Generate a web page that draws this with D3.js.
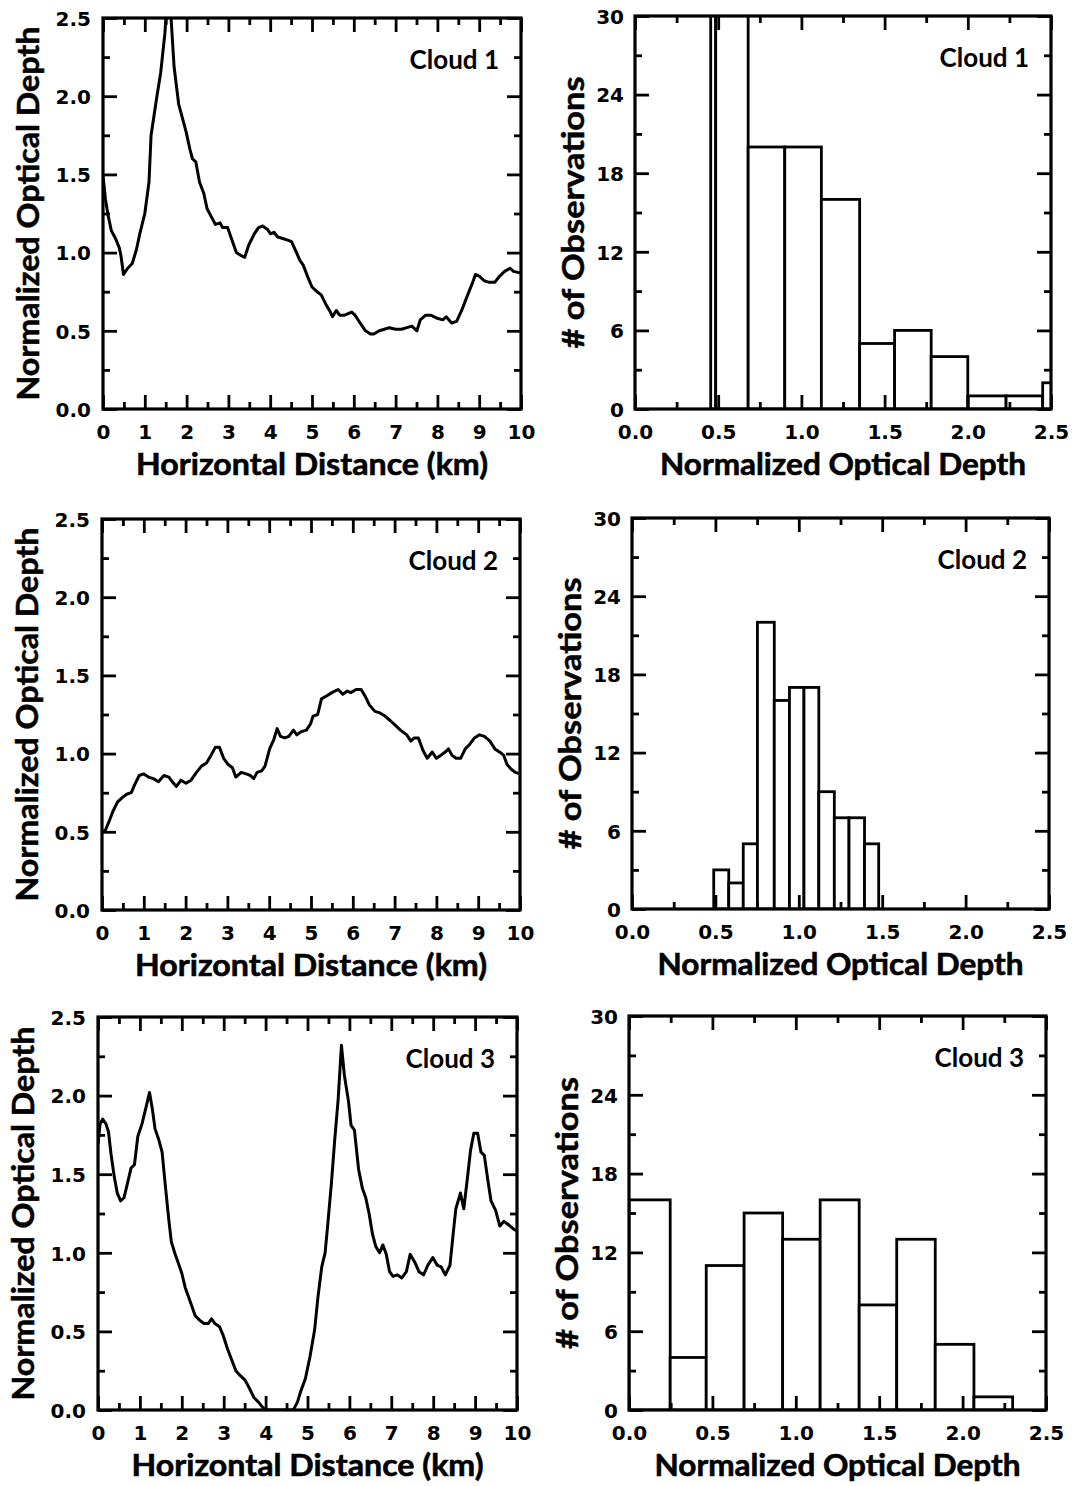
<!DOCTYPE html>
<html>
<head>
<meta charset="utf-8">
<script src="https://cdn.jsdelivr.net/npm/d3@7"></script>
<style>
  body { margin: 0; background: #fff; }
  svg { display: block; }
</style>
</head>
<body>
<svg id="chart" width="1074" height="1486"></svg>
<script>
// ---- Optical depth profiles: [horizontal distance (km), normalized optical depth] ----
const cloud1Profile = [
  [0,1.49],[0.06,1.34],[0.12,1.24],[0.2,1.14],[0.3,1.09],[0.39,1.03],[0.43,0.98],[0.49,0.86],
  [0.59,0.9],[0.7,0.93],[0.8,1.02],[0.88,1.12],[1.0,1.25],[1.1,1.45],[1.15,1.75],[1.29,2.0],
  [1.38,2.15],[1.48,2.4],[1.57,2.75],[1.7,2.19],[1.81,1.95],[1.91,1.85],[1.99,1.77],[2.08,1.66],
  [2.14,1.6],[2.22,1.58],[2.31,1.45],[2.41,1.38],[2.49,1.28],[2.59,1.23],[2.69,1.18],[2.8,1.19],
  [2.86,1.16],[2.98,1.16],[3.06,1.1],[3.19,1.0],[3.31,0.98],[3.39,0.97],[3.49,1.05],[3.62,1.12],
  [3.72,1.16],[3.82,1.17],[3.93,1.15],[4.01,1.12],[4.09,1.13],[4.18,1.1],[4.3,1.09],[4.42,1.08],
  [4.51,1.07],[4.63,1.0],[4.71,0.95],[4.79,0.92],[4.92,0.83],[5.0,0.78],[5.12,0.75],[5.22,0.73],
  [5.33,0.67],[5.44,0.62],[5.49,0.59],[5.58,0.63],[5.66,0.6],[5.78,0.6],[5.95,0.62],[6.03,0.6],
  [6.15,0.55],[6.28,0.5],[6.4,0.48],[6.48,0.48],[6.61,0.5],[6.73,0.51],[6.85,0.52],[7.0,0.51],
  [7.14,0.51],[7.27,0.52],[7.39,0.53],[7.51,0.5],[7.59,0.57],[7.72,0.6],[7.84,0.6],[8.0,0.58],
  [8.13,0.57],[8.21,0.59],[8.34,0.55],[8.46,0.56],[8.58,0.63],[8.71,0.72],[8.83,0.8],[8.91,0.86],
  [9.0,0.85],[9.12,0.82],[9.24,0.81],[9.37,0.81],[9.49,0.85],[9.61,0.88],[9.74,0.9],[9.82,0.88],
  [10.0,0.87]
];

const cloud2Profile = [
  [0,0.5],[0.08,0.51],[0.16,0.56],[0.26,0.63],[0.37,0.69],[0.49,0.72],[0.59,0.74],[0.7,0.75],
  [0.78,0.8],[0.89,0.86],[1.0,0.87],[1.11,0.85],[1.23,0.84],[1.35,0.82],[1.48,0.86],[1.6,0.85],
  [1.68,0.82],[1.78,0.79],[1.89,0.83],[2.01,0.81],[2.13,0.83],[2.26,0.88],[2.38,0.92],[2.5,0.94],
  [2.61,0.99],[2.71,1.04],[2.81,1.04],[2.91,0.97],[3.02,0.93],[3.12,0.91],[3.2,0.85],[3.33,0.88],
  [3.45,0.87],[3.55,0.86],[3.63,0.84],[3.71,0.88],[3.82,0.89],[3.9,0.92],[4.01,1.03],[4.11,1.09],
  [4.19,1.16],[4.27,1.11],[4.37,1.1],[4.47,1.11],[4.58,1.15],[4.66,1.12],[4.76,1.14],[4.89,1.15],
  [4.99,1.19],[5.05,1.24],[5.16,1.25],[5.25,1.35],[5.38,1.37],[5.5,1.39],[5.65,1.41],[5.76,1.38],
  [5.87,1.4],[5.95,1.39],[6.08,1.41],[6.2,1.41],[6.31,1.36],[6.4,1.31],[6.53,1.27],[6.65,1.26],
  [6.77,1.24],[6.9,1.21],[7.02,1.18],[7.14,1.15],[7.29,1.12],[7.39,1.08],[7.47,1.1],[7.57,1.1],
  [7.68,1.02],[7.78,0.97],[7.9,1.01],[8.0,0.97],[8.11,0.99],[8.21,1.01],[8.29,1.03],[8.37,0.99],
  [8.47,0.97],[8.58,0.97],[8.69,1.03],[8.8,1.06],[8.91,1.1],[9.03,1.12],[9.15,1.11],[9.28,1.08],
  [9.4,1.03],[9.51,1.01],[9.61,0.99],[9.69,0.93],[9.79,0.9],[9.89,0.88],[10.0,0.87]
];

const cloud3Profile = [
  [0,1.69],[0.05,1.82],[0.11,1.85],[0.19,1.82],[0.25,1.77],[0.31,1.63],[0.39,1.48],[0.46,1.38],
  [0.54,1.33],[0.62,1.35],[0.71,1.45],[0.79,1.54],[0.87,1.56],[0.95,1.74],[1.05,1.82],[1.15,1.93],
  [1.23,2.02],[1.3,1.91],[1.36,1.79],[1.45,1.72],[1.53,1.64],[1.61,1.42],[1.69,1.21],[1.75,1.07],
  [1.83,1.0],[1.91,0.94],[2.0,0.87],[2.08,0.78],[2.16,0.72],[2.24,0.66],[2.32,0.6],[2.43,0.57],
  [2.53,0.55],[2.63,0.55],[2.71,0.58],[2.79,0.55],[2.9,0.53],[2.98,0.48],[3.09,0.39],[3.19,0.32],
  [3.29,0.25],[3.39,0.22],[3.51,0.19],[3.61,0.14],[3.72,0.08],[3.83,0.05],[3.92,0.02],[4.0,0.0],
  [4.66,0.0],[4.76,0.05],[4.84,0.12],[4.95,0.2],[5.06,0.34],[5.17,0.51],[5.25,0.72],[5.34,0.91],
  [5.42,1.0],[5.48,1.17],[5.57,1.44],[5.65,1.72],[5.73,1.97],[5.81,2.32],[5.88,2.13],[5.98,1.96],
  [6.04,1.81],[6.12,1.78],[6.22,1.53],[6.31,1.41],[6.39,1.35],[6.47,1.25],[6.55,1.12],[6.63,1.04],
  [6.72,1.0],[6.8,1.05],[6.88,0.99],[6.96,0.88],[7.04,0.85],[7.14,0.86],[7.25,0.84],[7.36,0.88],
  [7.45,0.99],[7.56,0.94],[7.66,0.88],[7.77,0.86],[7.87,0.92],[7.99,0.97],[8.1,0.92],[8.19,0.91],
  [8.29,0.86],[8.4,0.92],[8.48,1.13],[8.54,1.28],[8.65,1.38],[8.73,1.28],[8.81,1.46],[8.89,1.65],
  [8.97,1.76],[9.06,1.76],[9.14,1.64],[9.22,1.62],[9.3,1.47],[9.38,1.33],[9.49,1.27],[9.59,1.17],
  [9.69,1.2],[9.79,1.18],[9.92,1.15],[10.0,1.14]
];

// ---- Histograms: bin edges (normalized optical depth) and counts per bin ----
const cloud1BinEdges = [0.455, 0.485, 0.68, 0.90, 1.12, 1.35, 1.56, 1.78, 2.00, 2.23, 2.45, 2.52];
const cloud1Counts   = [34, 34, 20, 20, 16, 5, 6, 4, 1, 1, 2];

const cloud2BinEdges = [0.49, 0.58, 0.667, 0.752, 0.853, 0.944, 1.031, 1.12, 1.213, 1.301, 1.394, 1.479];
const cloud2Counts   = [3, 2, 5, 22, 16, 17, 17, 9, 7, 7, 5];

const cloud3BinEdges = [0.0, 0.247, 0.463, 0.69, 0.921, 1.146, 1.38, 1.605, 1.836, 2.068, 2.3];
const cloud3Counts   = [16, 4, 11, 15, 13, 16, 8, 13, 5, 1];

// ---- Tick values ----
const distanceTicks      = [0, 1, 2, 3, 4, 5, 6, 7, 8, 9, 10];
const distanceMinorTicks = [0.5, 1.5, 2.5, 3.5, 4.5, 5.5, 6.5, 7.5, 8.5, 9.5];
const depthTicks         = [0, 0.5, 1.0, 1.5, 2.0, 2.5];
const depthMinorTicks    = [0.25, 0.75, 1.25, 1.75, 2.25];
const countTicks         = [0, 6, 12, 18, 24, 30];
const countMinorTicks    = [3, 9, 15, 21, 27];

const cloudNames = ["Cloud 1", "Cloud 2", "Cloud 3"];

// ---- Layout ----
const profileBoxes = [
  { x0: 103, x1: 521, y0: 18,   y1: 409 },
  { x0: 102, x1: 520, y0: 519,  y1: 910 },
  { x0: 98,  x1: 517, y0: 1017, y1: 1410 }
];
const histBoxes = [
  { x0: 635, x1: 1051, y0: 16,   y1: 409 },
  { x0: 632, x1: 1049, y0: 518,  y1: 909 },
  { x0: 629, x1: 1046, y0: 1016, y1: 1410 }
];

const TITLE_FONT = "Lato, 'Open Sans', 'DejaVu Sans', sans-serif";
const TICK_FONT = "'DejaVu Sans', Lato, sans-serif";
const svg = d3.select("#chart");
const defs = svg.append("defs");

function clipFor(id, b) {
  defs.append("clipPath").attr("id", id)
    .append("rect")
    .attr("x", b.x0).attr("y", b.y0)
    .attr("width", b.x1 - b.x0).attr("height", b.y1 - b.y0);
  return `url(#${id})`;
}

function styleAxis(sel) {
  sel.select(".domain").remove();
  sel.selectAll(".tick line").attr("stroke", "#000").attr("stroke-width", 2.8);
  sel.selectAll(".tick text")
    .attr("fill", "#000")
    .attr("font-family", TICK_FONT)
    .attr("font-weight", 700)
    .attr("font-size", 20);
}

function drawFrame(g, b, x, y, opts) {
  const BIG = 14, SMALL = 7;
  const none = () => "";
  // bottom: labelled major ticks + minor ticks
  g.append("g").attr("transform", `translate(0,${b.y1})`)
    .call(d3.axisBottom(x).tickValues(opts.xMajor).tickSize(-BIG).tickSizeOuter(0).tickFormat(opts.xFmt))
    .call(styleAxis)
    .call(s => s.selectAll(".tick text").attr("y", 30).attr("dy", null));
  g.append("g").attr("transform", `translate(0,${b.y1})`)
    .call(d3.axisBottom(x).tickValues(opts.xMinor).tickSize(-SMALL).tickSizeOuter(0).tickFormat(none))
    .call(styleAxis);
  // top
  g.append("g").attr("transform", `translate(0,${b.y0})`)
    .call(d3.axisTop(x).tickValues(opts.xMajor).tickSize(-BIG).tickSizeOuter(0).tickFormat(none))
    .call(styleAxis);
  g.append("g").attr("transform", `translate(0,${b.y0})`)
    .call(d3.axisTop(x).tickValues(opts.xMinor).tickSize(-SMALL).tickSizeOuter(0).tickFormat(none))
    .call(styleAxis);
  // left: labelled
  g.append("g").attr("transform", `translate(${b.x0},0)`)
    .call(d3.axisLeft(y).tickValues(opts.yMajor).tickSize(-BIG).tickSizeOuter(0).tickPadding(opts.yPad).tickFormat(opts.yFmt))
    .call(styleAxis)
    .call(s => s.selectAll(".tick text").attr("dy", "0.36em"));
  g.append("g").attr("transform", `translate(${b.x0},0)`)
    .call(d3.axisLeft(y).tickValues(opts.yMinor).tickSize(-SMALL).tickSizeOuter(0).tickFormat(none))
    .call(styleAxis);
  // right
  g.append("g").attr("transform", `translate(${b.x1},0)`)
    .call(d3.axisRight(y).tickValues(opts.yMajor).tickSize(-BIG).tickSizeOuter(0).tickFormat(none))
    .call(styleAxis);
  g.append("g").attr("transform", `translate(${b.x1},0)`)
    .call(d3.axisRight(y).tickValues(opts.yMinor).tickSize(-SMALL).tickSizeOuter(0).tickFormat(none))
    .call(styleAxis);
  // plot border
  g.append("rect")
    .attr("x", b.x0).attr("y", b.y0)
    .attr("width", b.x1 - b.x0).attr("height", b.y1 - b.y0)
    .attr("fill", "none").attr("stroke", "#000").attr("stroke-width", 3.2);
}

function titles(g, b, xTitle, xLen, yTitle, yLen, yOffset, name) {
  const cx = (b.x0 + b.x1) / 2, cy = (b.y0 + b.y1) / 2;
  g.append("text")
    .attr("x", cx).attr("y", b.y1 + 66)
    .attr("text-anchor", "middle")
    .attr("font-family", TITLE_FONT).attr("font-weight", 700).attr("font-size", 30)
    .attr("stroke", "#000").attr("stroke-width", 0.6)
    .attr("textLength", xLen).attr("lengthAdjust", "spacingAndGlyphs")
    .text(xTitle);
  g.append("text")
    .attr("transform", `translate(${b.x0 - yOffset},${cy}) rotate(-90)`)
    .attr("text-anchor", "middle")
    .attr("font-family", TITLE_FONT).attr("font-weight", 700).attr("font-size", 31)
    .attr("stroke", "#000").attr("stroke-width", 0.5)
    .attr("textLength", yLen).attr("lengthAdjust", "spacingAndGlyphs")
    .text(yTitle);
  g.append("text")
    .attr("x", b.x1 - 22).attr("y", b.y0 + 51)
    .attr("text-anchor", "end")
    .attr("font-family", TITLE_FONT).attr("font-weight", 700).attr("font-size", 26)
    .text(name);
}

const fmtDist = d3.format("d");
const fmtDepth = d3.format(".1f");
const fmtCount = d3.format("d");

// ---- Left column: optical depth along the flight track ----
[cloud1Profile, cloud2Profile, cloud3Profile].forEach((profile, i) => {
  const b = profileBoxes[i];
  const g = svg.append("g");
  const x = d3.scaleLinear().domain([0, 10]).range([b.x0, b.x1]);
  const y = d3.scaleLinear().domain([0, 2.5]).range([b.y1, b.y0]);
  const line = d3.line().x(d => x(d[0])).y(d => y(d[1]));
  g.append("path")
    .datum(profile)
    .attr("clip-path", clipFor(`clip-profile-${i}`, b))
    .attr("d", line)
    .attr("fill", "none").attr("stroke", "#000")
    .attr("stroke-width", 3).attr("stroke-linejoin", "round");
  drawFrame(g, b, x, y, {
    xMajor: distanceTicks, xMinor: distanceMinorTicks, xFmt: fmtDist,
    yMajor: depthTicks, yMinor: depthMinorTicks, yFmt: fmtDepth, yPad: 12
  });
  titles(g, b, "Horizontal Distance (km)", 352, "Normalized Optical Depth", 374, 64, cloudNames[i]);
});

// ---- Right column: histograms of optical depth ----
[[cloud1BinEdges, cloud1Counts], [cloud2BinEdges, cloud2Counts], [cloud3BinEdges, cloud3Counts]]
  .forEach(([edges, counts], i) => {
    const b = histBoxes[i];
    const g = svg.append("g");
    const x = d3.scaleLinear().domain([0, 2.5]).range([b.x0, b.x1]);
    const y = d3.scaleLinear().domain([0, 30]).range([b.y1, b.y0]);
    const bins = counts.map((c, k) => ({ lo: edges[k], hi: edges[k + 1], n: c }));
    g.append("g")
      .attr("clip-path", clipFor(`clip-hist-${i}`, b))
      .selectAll("rect")
      .data(bins)
      .join("rect")
      .attr("x", d => x(d.lo))
      .attr("y", d => y(d.n))
      .attr("width", d => x(d.hi) - x(d.lo))
      .attr("height", d => y(0) - y(d.n))
      .attr("fill", "#fff").attr("stroke", "#000").attr("stroke-width", 2.8);
    drawFrame(g, b, x, y, {
      xMajor: depthTicks, xMinor: depthMinorTicks, xFmt: fmtDepth,
      yMajor: countTicks, yMinor: countMinorTicks, yFmt: fmtCount, yPad: 11
    });
    titles(g, b, "Normalized Optical Depth", 366, "# of Observations", 272, 51, cloudNames[i]);
  });
</script>
</body>
</html>
